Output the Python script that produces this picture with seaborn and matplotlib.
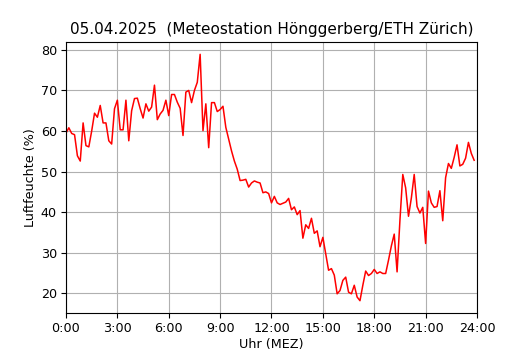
import matplotlib
matplotlib.use("Agg")
import matplotlib.pyplot as plt
import seaborn as sns
import numpy as np
import pandas as pd

title = "05.04.2025  (Meteostation Hönggerberg/ETH Zürich)"
xlabel = "Uhr (MEZ)"
ylabel = "Luftfeuchte (%)"
tick_hours = [0, 3, 6, 9, 12, 15, 18, 21, 24]
tick_labels = ["0:00", "3:00", "6:00", "9:00", "12:00", "15:00", "18:00", "21:00", "24:00"]

# humidity every 10 minutes, 0:00 .. 23:50
humidity = [
    59.5, 60.8, 59.4, 59.1, 53.9, 52.6, 62.0, 56.4, 56.1, 60.0, 64.4, 63.4,
    66.3, 62.0, 62.0, 57.6, 56.8, 65.5, 67.6, 60.3, 60.3, 67.6, 57.6, 65.0,
    68.0, 68.1, 65.5, 63.2, 66.7, 64.9, 65.9, 71.3, 62.8, 64.2, 65.1, 67.6,
    63.8, 69.0, 69.0, 67.1, 65.6, 58.9, 69.6, 70.0, 67.0, 70.0, 72.0, 78.9,
    60.1, 66.7, 55.9, 67.0, 67.0, 64.8, 65.3, 66.1, 60.9, 58.0, 55.1, 52.6,
    50.6, 47.8, 47.9, 48.1, 46.2, 47.2, 47.7, 47.4, 47.2, 44.8, 45.0, 44.6,
    42.3, 43.9, 42.3, 41.9, 42.2, 42.5, 43.4, 40.6, 41.3, 39.4, 40.4, 33.6,
    36.9, 36.0, 38.5, 34.8, 35.4, 31.5, 33.8, 29.8, 25.7, 26.1, 24.5, 19.9,
    20.7, 23.2, 24.0, 20.3, 19.9, 22.0, 19.1, 18.2, 22.0, 25.5, 24.4, 24.9,
    25.9, 24.9, 25.3, 24.9, 24.9, 28.2, 31.7, 34.6, 25.3, 38.0, 49.3, 46.0,
    39.0, 43.5, 49.3, 41.4, 39.8, 41.2, 32.3, 45.2, 42.3, 41.2, 41.4, 45.3,
    37.9, 48.5, 52.0, 50.8, 53.5, 56.6, 51.4, 51.8, 53.3, 57.2, 54.5, 52.8,
]
hours = [i / 6 for i in range(len(humidity))]

df = pd.DataFrame({"hour": hours, "humidity": humidity})

plt.rcParams["font.family"] = ["DejaVu Sans"]
fig = plt.figure(figsize=(5.3, 3.5), dpi=100)
ax = fig.add_axes([0.1245, 0.1057, 0.7755, 0.7743])
sns.lineplot(data=df, x="hour", y="humidity", color="red", linewidth=1.1, ax=ax)
ax.set_xlim(0, 24)
ax.set_xticks(tick_hours)
ax.set_xticklabels(tick_labels)
ax.tick_params(labelsize=9.2, pad=3.2, length=3.3)
ax.set_xlabel(xlabel, fontsize=9.2, labelpad=2)
ax.set_ylabel(ylabel, fontsize=9.2, labelpad=3)
ax.set_title(title, fontsize=11, pad=5.5)
ax.grid(True, color="#b0b0b0", linewidth=0.8)
ax.set_axisbelow(True)
fig.savefig("out.png", dpi=100)
